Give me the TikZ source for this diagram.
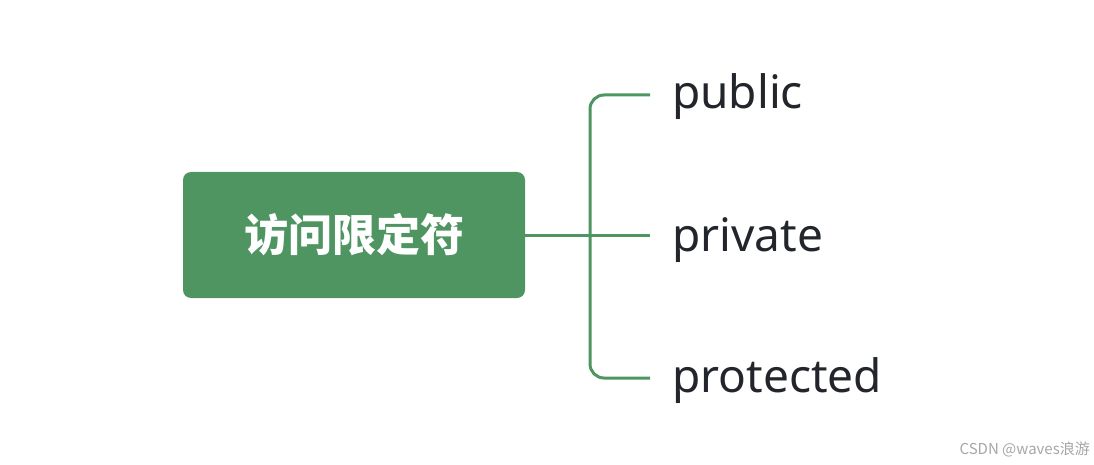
\documentclass[tikz,border=0pt]{standalone}
\usepackage{fontspec}
\setmainfont{Noto Sans}
\newfontfamily\cjk{Noto Sans CJK SC}
\newfontfamily\cjkbold{Noto Sans CJK SC Bold}
\usetikzlibrary{positioning}
\definecolor{mindgreen}{HTML}{4F9562}
\definecolor{leaftext}{HTML}{22252B}
\tikzset{
  rootbox/.style={
    fill=mindgreen,
    rounded corners=8pt,
    minimum width=342pt,
    minimum height=126pt,
    text=white,
    font=\cjk\bfseries\fontsize{44}{44}\selectfont
  },
  leaf/.style={
    anchor=west,
    inner sep=0pt,
    text=leaftext,
    font=\fontsize{46}{46}\selectfont
  },
  branch/.style={
    draw=mindgreen,
    line width=3pt
  }
}
\begin{document}
\begin{tikzpicture}[x=1pt,y=-1pt]
  \useasboundingbox (0,0) rectangle (1094,465);
  \node[rootbox] (root) at (354,235) {访问限定符};
  \coordinate (fork) at (590,235);
  \node[leaf] (public) at (672,97) {public};
  \node[leaf] (private) at (672,240) {private};
  \node[leaf] (protected) at (672,381) {protected};
  \coordinate (pubend) at (650,95);
  \coordinate (priend) at (650,235);
  \coordinate (proend) at (650,378);
  \draw[branch] (root.east) -- (priend);
  \draw[branch, rounded corners=14pt] (pubend) -| (fork) |- (proend);
  \node[anchor=east, inner sep=0pt, text=gray!70, font=\cjk\fontsize{15}{15}\selectfont] (mark) at (1090,449) {CSDN @waves浪游};
\end{tikzpicture}
\end{document}
